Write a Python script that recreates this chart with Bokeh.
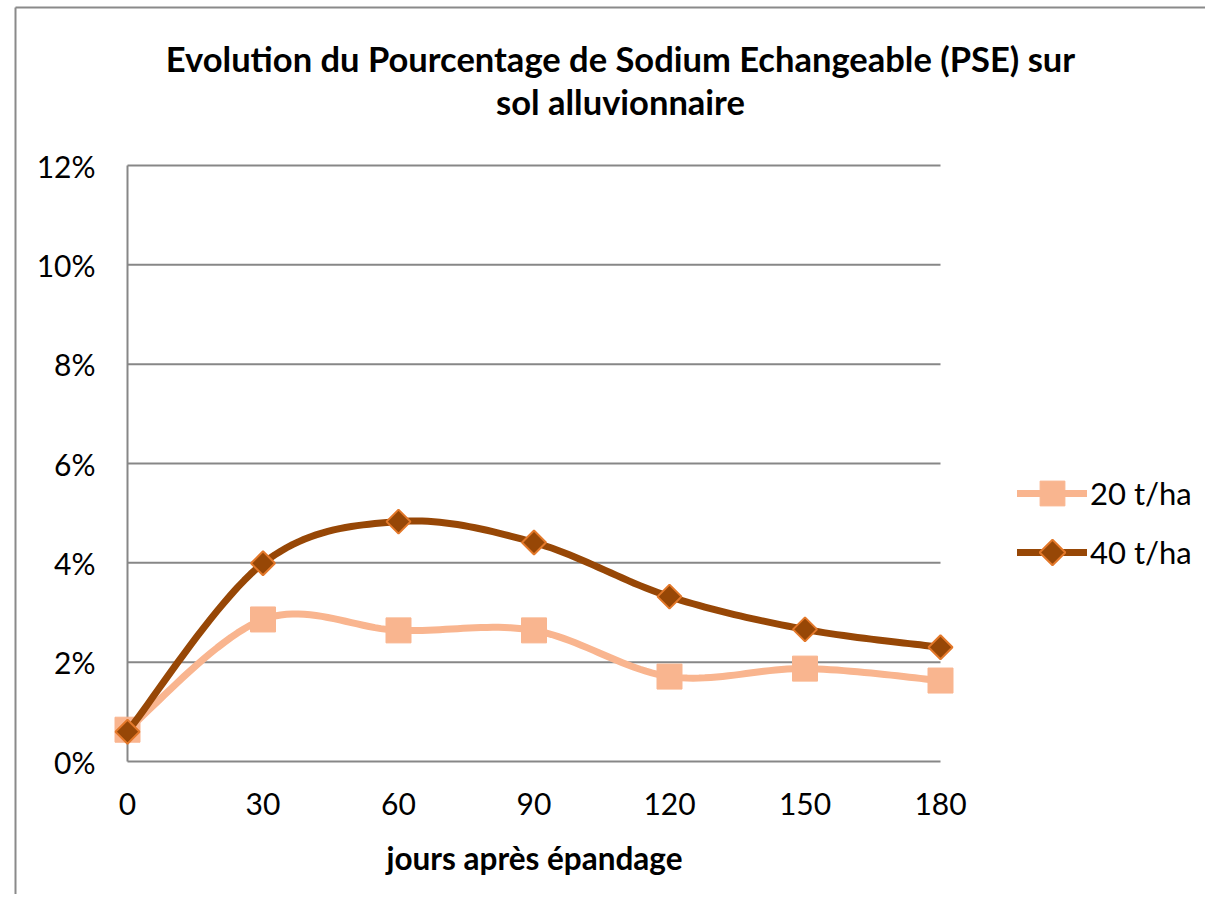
import numpy as np
from bokeh.plotting import figure
from bokeh.models import Legend, LegendItem, Range1d, Label
from bokeh.core.properties import value
from bokeh.embed import file_html
from bokeh.resources import INLINE

# ---- data ----
days = [0, 30, 60, 90, 120, 150, 180]
pse_20 = [0.0064, 0.0286, 0.0264, 0.0264, 0.0171, 0.0187, 0.0163]
pse_40 = [0.0060, 0.0399, 0.0483, 0.0441, 0.0332, 0.0266, 0.0230]
series_names = ["20 t/ha", "40 t/ha"]
y_ticks = [0, 0.02, 0.04, 0.06, 0.08, 0.10, 0.12]
y_tick_labels = ["0%", "2%", "4%", "6%", "8%", "10%", "12%"]
x_ticks = days
x_tick_labels = ["0", "30", "60", "90", "120", "150", "180"]
title_lines = ["Evolution du Pourcentage de Sodium Echangeable (PSE) sur",
               "sol alluvionnaire"]
x_title = "jours après épandage"

LIGHT = "#F9B58F"
DARK = "#974706"
DARK_EDGE = "#E3782A"
GRID = "#878787"
FONT = "Lato"

# ---- layout (canvas pixels) ----
W, H = 1205, 894
FL, FR = 127, 940      # pixel positions of x=0 and x=180
FT, FB = 165, 761      # pixel positions of y=12% and y=0%
XMIN, XMAX = min(x_ticks), max(x_ticks)
YMIN, YMAX = min(y_ticks), max(y_ticks)
kx = (XMAX - XMIN) / (FR - FL)
ky = (YMAX - YMIN) / (FB - FT)


def xd(px):
    return XMIN + (px - FL) * kx


def yd(py):
    return YMIN + (FB - py) * ky


def smooth(xs, ys, n=24):
    """Catmull-Rom style Bezier smoothing (like a spreadsheet smoothed line)."""
    xs = np.asarray(xs, float)
    ys = np.asarray(ys, float)
    px = np.concatenate([[xs[0]], xs, [xs[-1]]])
    py = np.concatenate([[ys[0]], ys, [ys[-1]]])
    outx, outy = [], []
    t = np.linspace(0, 1, n)
    for i in range(1, len(px) - 2):
        p0x, p0y = px[i], py[i]
        p3x, p3y = px[i + 1], py[i + 1]
        c1x = p0x + (px[i + 1] - px[i - 1]) / 6.0
        c1y = p0y + (py[i + 1] - py[i - 1]) / 6.0
        c2x = p3x - (px[i + 2] - px[i]) / 6.0
        c2y = p3y - (py[i + 2] - py[i]) / 6.0
        bx = ((1 - t) ** 3) * p0x + 3 * ((1 - t) ** 2) * t * c1x + 3 * (1 - t) * t ** 2 * c2x + t ** 3 * p3x
        by = ((1 - t) ** 3) * p0y + 3 * ((1 - t) ** 2) * t * c1y + 3 * (1 - t) * t ** 2 * c2y + t ** 3 * p3y
        if i > 1:
            bx, by = bx[1:], by[1:]
        outx.extend(bx)
        outy.extend(by)
    return outx, outy


p = figure(width=W, height=H, output_backend="svg", toolbar_location=None,
           x_range=Range1d(xd(0), xd(W)), y_range=Range1d(yd(H), yd(0)),
           x_axis_type=None, y_axis_type=None, min_border=0)
p.outline_line_color = None
p.background_fill_color = "white"
p.border_fill_color = "white"
p.xgrid.visible = False
p.ygrid.visible = False

# chart-area border (top and left edges visible)
p.segment(x0=[xd(15), xd(15)], y0=[yd(7), yd(7)], x1=[xd(15), xd(W + 10)], y1=[yd(H + 10), yd(7)],
          line_color="#8a8a8a", line_width=2)

# horizontal gridlines
p.segment(x0=[XMIN] * len(y_ticks), y0=y_ticks, x1=[XMAX] * len(y_ticks), y1=y_ticks,
          line_color=GRID, line_width=2)
# vertical axis line
p.segment(x0=[XMIN], y0=[YMIN], x1=[XMIN], y1=[YMAX], line_color=GRID, line_width=2)

# tick labels
p.text(x=[XMIN] * len(y_ticks), y=y_ticks, text=y_tick_labels, x_offset=-32,
       text_align="right", text_baseline="middle", text_font=value(FONT),
       text_font_size="30px", text_color="black")
p.text(x=x_ticks, y=[YMIN] * len(x_ticks), text=x_tick_labels, y_offset=42,
       text_align="center", text_baseline="middle", text_font=value(FONT),
       text_font_size="30px", text_color="black")

# axis title and chart title
p.add_layout(Label(x=534, y=H - 857, x_units="screen", y_units="screen", text=x_title,
                   text_font=FONT, text_font_size="31.5px", text_font_style="bold",
                   text_align="center", text_baseline="middle", text_color="black"))
for i, line in enumerate(title_lines):
    p.add_layout(Label(x=620, y=H - [58, 101][i], x_units="screen", y_units="screen",
                       text=line, text_font=FONT, text_font_size="34.5px",
                       text_font_style="bold", text_align="center",
                       text_baseline="middle", text_color="black"))

# series
sx, sy = smooth(days, pse_20)
l20 = p.line(sx, sy, line_color=LIGHT, line_width=7, line_cap="round", line_join="round")
m20 = p.scatter(days, pse_20, marker="square", size=25, fill_color=LIGHT,
                line_color=LIGHT, line_width=1)

sx, sy = smooth(days, pse_40)
l40 = p.line(sx, sy, line_color=DARK, line_width=7, line_cap="round", line_join="round")
try:
    m40 = p.ngon(x=days, y=pse_40, n=4, radius=12, radius_units="screen",
                 fill_color=DARK, line_color=DARK_EDGE, line_width=2)
except Exception:
    m40 = p.scatter(days, pse_40, marker="square", size=17, angle=np.pi / 4,
                    fill_color=DARK, line_color=DARK_EDGE, line_width=2)

# legends (one per series so each marker keeps its own size)
for item, gh, cy in [(LegendItem(label=series_names[0], renderers=[l20, m20]), 62, 493),
                     (LegendItem(label=series_names[1], renderers=[l40, m40]), 64, 552)]:
    lg = Legend(items=[item], location=(1017, H - (cy + gh // 2)), orientation="vertical",
                glyph_width=70, glyph_height=gh, label_height=gh,
                spacing=0, padding=0, margin=0, label_standoff=3,
                border_line_color=None, background_fill_alpha=0,
                label_text_font=FONT, label_text_font_size="31px",
                label_text_color="black")
    p.add_layout(lg, "center")

open("out.html", "w").write(file_html(p, INLINE))
